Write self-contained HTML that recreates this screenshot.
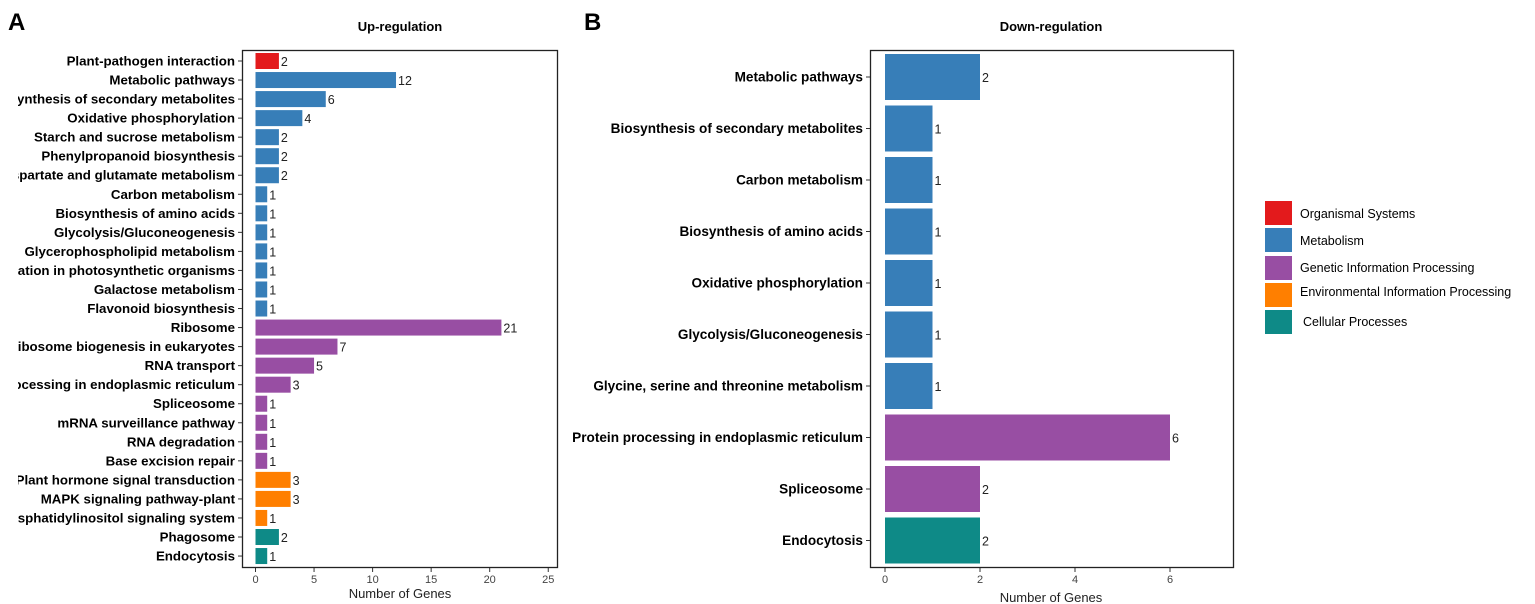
<!DOCTYPE html><html><head><style>body{margin:0;background:#fff}svg{display:block}text{font-family:"Liberation Sans",Arial,sans-serif}</style></head><body>
<svg width="1535" height="604" xmlns="http://www.w3.org/2000/svg">
<rect width="1535" height="604" fill="#fff"/>
<text x="8" y="30" font-size="24" font-weight="bold">A</text>
<text x="584" y="30" font-size="24" font-weight="bold">B</text>
<text x="400" y="31" font-size="13" font-weight="bold" text-anchor="middle">Up-regulation</text>
<text x="1051" y="31" font-size="13" font-weight="bold" text-anchor="middle">Down-regulation</text>
<g id="A"></g>
<g id="B"></g>
<rect x="242.5" y="50.5" width="315" height="517" fill="none" stroke="#222" stroke-width="1.3"/>
<rect x="870.5" y="50.5" width="363" height="517" fill="none" stroke="#222" stroke-width="1.3"/>
<text x="400" y="598" font-size="13" text-anchor="middle" fill="#222">Number of Genes</text>
<text x="1051" y="602" font-size="13" text-anchor="middle" fill="#222">Number of Genes</text>
<g font-size="12.5">
<rect x="1265" y="201" width="27" height="24" fill="#E31A1C"/><text x="1300" y="218">Organismal Systems</text>
<rect x="1265" y="228" width="27" height="24" fill="#377EB8"/><text x="1300" y="245">Metabolism</text>
<rect x="1265" y="256" width="27" height="24" fill="#984EA3"/><text x="1300" y="272">Genetic Information Processing</text>
<rect x="1265" y="283" width="27" height="24" fill="#FF7F00"/><text x="1300" y="296">Environmental Information Processing</text>
<rect x="1265" y="310" width="27" height="24" fill="#0E8A87"/><text x="1303" y="326">Cellular Processes</text>
</g>
</svg>
<script>
const NS="http://www.w3.org/2000/svg";
function el(p,t,a,txt){const e=document.createElementNS(NS,t);for(const k in a)e.setAttribute(k,a[k]);if(txt!==undefined)e.textContent=txt;p.appendChild(e);return e;}
const C={r:"#E31A1C",b:"#377EB8",p:"#984EA3",o:"#FF7F00",t:"#0E8A87"};
const A=[["Plant-pathogen interaction",2,"r"],["Metabolic pathways",12,"b"],["Biosynthesis of secondary metabolites",6,"b"],["Oxidative phosphorylation",4,"b"],["Starch and sucrose metabolism",2,"b"],["Phenylpropanoid biosynthesis",2,"b"],["Alanine, aspartate and glutamate metabolism",2,"b"],["Carbon metabolism",1,"b"],["Biosynthesis of amino acids",1,"b"],["Glycolysis/Gluconeogenesis",1,"b"],["Glycerophospholipid metabolism",1,"b"],["Carbon fixation in photosynthetic organisms",1,"b"],["Galactose metabolism",1,"b"],["Flavonoid biosynthesis",1,"b"],["Ribosome",21,"p"],["Ribosome biogenesis in eukaryotes",7,"p"],["RNA transport",5,"p"],["Protein processing in endoplasmic reticulum",3,"p"],["Spliceosome",1,"p"],["mRNA surveillance pathway",1,"p"],["RNA degradation",1,"p"],["Base excision repair",1,"p"],["Plant hormone signal transduction",3,"o"],["MAPK signaling pathway-plant",3,"o"],["Phosphatidylinositol signaling system",1,"o"],["Phagosome",2,"t"],["Endocytosis",1,"t"]];
const gA=document.getElementById("A");
const u=11.71,x0=255.5;
A.forEach((d,i)=>{const y=61+i*19.04;
el(gA,"rect",{x:x0,y:y-8,width:d[1]*u,height:16,fill:C[d[2]]});
el(gA,"text",{x:x0+d[1]*u+2,y:y+5,"font-size":12.5,fill:"#222"},d[1]);
el(gA,"line",{x1:238,x2:242,y1:y,y2:y,stroke:"#333"});
el(gA,"text",{x:235,y:y+4.5,"font-size":13.3,"font-weight":"bold","text-anchor":"end"},d[0]);});
[0,5,10,15,20,25].forEach(v=>{const x=x0+v*u;el(gA,"line",{x1:x,x2:x,y1:568,y2:572,stroke:"#333"});el(gA,"text",{x:x,y:583,"font-size":11,"text-anchor":"middle",fill:"#444"},v);});
const B=[["Metabolic pathways",2,"b"],["Biosynthesis of secondary metabolites",1,"b"],["Carbon metabolism",1,"b"],["Biosynthesis of amino acids",1,"b"],["Oxidative phosphorylation",1,"b"],["Glycolysis/Gluconeogenesis",1,"b"],["Glycine, serine and threonine metabolism",1,"b"],["Protein processing in endoplasmic reticulum",6,"p"],["Spliceosome",2,"p"],["Endocytosis",2,"t"]];
const gB=document.getElementById("B");const ub=47.5,xb=885;
B.forEach((d,i)=>{const y=77+i*51.5;
el(gB,"rect",{x:xb,y:y-23,width:d[1]*ub,height:46,fill:C[d[2]]});
el(gB,"text",{x:xb+d[1]*ub+2,y:y+5,"font-size":12.5,fill:"#222"},d[1]);
el(gB,"line",{x1:866,x2:870,y1:y,y2:y,stroke:"#333"});
el(gB,"text",{x:863,y:y+4.5,"font-size":13.6,"font-weight":"bold","text-anchor":"end"},d[0]);});
[0,2,4,6].forEach(v=>{const x=xb+v*ub;el(gB,"line",{x1:x,x2:x,y1:568,y2:572,stroke:"#333"});el(gB,"text",{x:x,y:583,"font-size":11,"text-anchor":"middle",fill:"#444"},v);});
const svg=document.querySelector("svg");
el(svg,"rect",{x:0,y:45,width:18,height:520,fill:"#fff"});
</script>
</body></html>
